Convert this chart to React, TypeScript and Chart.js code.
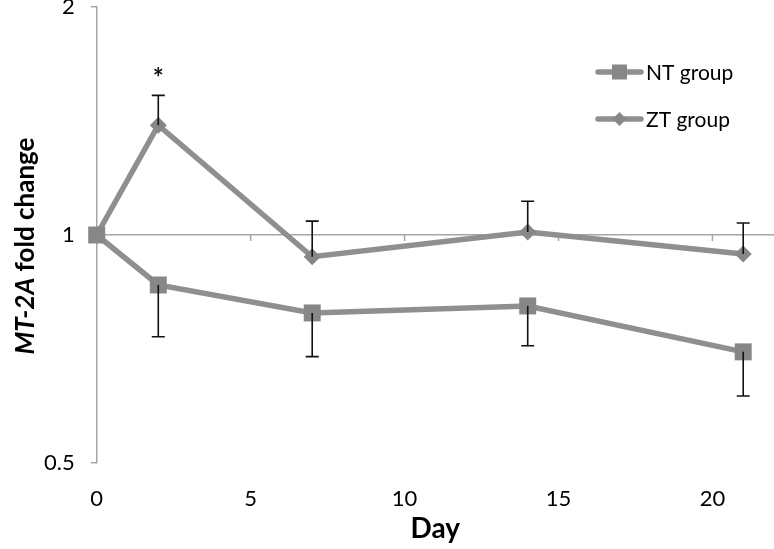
import React, { useEffect, useRef } from "react";
import { Chart, registerables } from "chart.js";

Chart.register(...registerables);

const days = [0, 2, 7, 14, 21];
const ntValues = [1.0, 0.859, 0.789, 0.806, 0.701];
const ztValues = [1.0, 1.396, 0.936, 1.009, 0.944];
const ntErrLow = [1.0, 0.734, 0.691, 0.714, 0.613];
const ztErrHigh = [1.0, 1.529, 1.043, 1.108, 1.037];
const significant = [false, true, false, false, false];
const xTicks = [0, 5, 10, 15, 20];
const yTicks = [0.5, 1, 2];
const seriesNames = ["NT group", "ZT group"];

const FONT = "Lato, 'Liberation Sans', sans-serif";
const LINE = "#8f8f8f";
const MARK = "#878787";

const overlay = {
  id: "overlay",
  afterDatasetsDraw(chart: any) {
    const ctx = chart.ctx;
    const xs = chart.scales.x;
    const ys = chart.scales.y;
    ctx.save();
    ctx.strokeStyle = "#111";
    ctx.lineWidth = 1.6;
    const cap = 6.5;
    days.forEach((d, i) => {
      const x = xs.getPixelForValue(d);
      if (ztErrHigh[i] !== ztValues[i]) {
        const y0 = ys.getPixelForValue(ztValues[i]);
        const y1 = ys.getPixelForValue(ztErrHigh[i]);
        ctx.beginPath();
        ctx.moveTo(x, y0);
        ctx.lineTo(x, y1);
        ctx.moveTo(x - cap, y1);
        ctx.lineTo(x + cap, y1);
        ctx.stroke();
        if (significant[i]) {
          ctx.fillStyle = "#111";
          ctx.font = `bold 26px ${FONT}`;
          ctx.textAlign = "center";
          ctx.textBaseline = "middle";
          ctx.fillText("*", x, y1 - 17);
        }
      }
      if (ntErrLow[i] !== ntValues[i]) {
        const y0 = ys.getPixelForValue(ntValues[i]);
        const y1 = ys.getPixelForValue(ntErrLow[i]);
        ctx.beginPath();
        ctx.moveTo(x, y0);
        ctx.lineTo(x, y1);
        ctx.moveTo(x - cap, y1);
        ctx.lineTo(x + cap, y1);
        ctx.stroke();
      }
    });
    ctx.restore();
  },
  beforeDatasetsDraw(chart: any) {
    const ctx = chart.ctx;
    const xs = chart.scales.x;
    const ys = chart.scales.y;
    const yBase = ys.getPixelForValue(1);
    ctx.save();
    ctx.strokeStyle = "#a6a6a6";
    ctx.lineWidth = 1.5;
    xTicks.forEach((t) => {
      if (t === 0) return;
      const x = xs.getPixelForValue(t);
      ctx.beginPath();
      ctx.moveTo(x, yBase);
      ctx.lineTo(x, yBase + 6);
      ctx.stroke();
    });
    ctx.restore();
  },
  afterDraw(chart: any) {
    const ctx = chart.ctx;
    ctx.save();
    const cx = 26;
    const cy = 246;
    ctx.translate(cx, cy);
    ctx.rotate(-Math.PI / 2);
    ctx.fillStyle = "#000";
    ctx.textBaseline = "middle";
    const p1 = "MT-2A";
    const p2 = " fold change";
    const f1 = `italic bold 26px ${FONT}`;
    const f2 = `bold 26px ${FONT}`;
    ctx.font = f1;
    const w1 = ctx.measureText(p1).width;
    ctx.font = f2;
    const w2 = ctx.measureText(p2).width;
    const start = -(w1 + w2) / 2;
    ctx.textAlign = "left";
    ctx.font = f1;
    ctx.fillText(p1, start, 0);
    ctx.font = f2;
    ctx.fillText(p2, start + w1, 0);
    ctx.restore();

    ctx.save();
    const items = [
      { name: seriesNames[0], style: "rect", r: 7.5, y: 72 },
      { name: seriesNames[1], style: "rectRot", r: 7, y: 119 },
    ];
    items.forEach((it) => {
      ctx.strokeStyle = LINE;
      ctx.lineWidth = 5.5;
      ctx.lineCap = "round";
      ctx.beginPath();
      ctx.moveTo(598, it.y);
      ctx.lineTo(641, it.y);
      ctx.stroke();
      ctx.fillStyle = MARK;
      ctx.beginPath();
      if (it.style === "rect") {
        ctx.rect(619.5 - it.r, it.y - it.r, it.r * 2, it.r * 2);
      } else {
        ctx.moveTo(619.5 - it.r, it.y);
        ctx.lineTo(619.5, it.y - it.r);
        ctx.lineTo(619.5 + it.r, it.y);
        ctx.lineTo(619.5, it.y + it.r);
        ctx.closePath();
      }
      ctx.fill();
      ctx.fillStyle = "#000";
      ctx.font = `21px ${FONT}`;
      ctx.textAlign = "left";
      ctx.textBaseline = "middle";
      ctx.fillText(it.name, 646, it.y + 1);
    });
    ctx.restore();
  },
};

export default function App() {
  const ref = useRef<HTMLCanvasElement>(null);
  useEffect(() => {
    if (!ref.current) return;
    const chart = new Chart(ref.current, {
      type: "line",
      data: {
        datasets: [
          {
            label: seriesNames[0],
            data: days.map((d, i) => ({ x: d, y: ntValues[i] })),
            borderColor: LINE,
            backgroundColor: MARK,
            borderWidth: 5.5,
            pointStyle: "rect",
            pointRadius: 12,
            pointBorderWidth: 0,
            pointBackgroundColor: MARK,
            tension: 0,
            clip: false,
          },
          {
            label: seriesNames[1],
            data: days.map((d, i) => ({ x: d, y: ztValues[i] })),
            borderColor: LINE,
            backgroundColor: MARK,
            borderWidth: 5.5,
            pointStyle: "rectRot",
            pointRadius: 8.5,
            pointBorderWidth: 0,
            pointBackgroundColor: MARK,
            tension: 0,
            clip: false,
          },
        ],
      },
      options: {
        animation: false,
        responsive: true,
        maintainAspectRatio: false,
        layout: { autoPadding: false, padding: { left: 28, right: 0, top: 0, bottom: 0 } },
        plugins: {
          legend: { display: false },
          tooltip: { enabled: false },
        },
        scales: {
          x: {
            type: "linear",
            min: 0,
            max: 22,
            border: { display: false },
            grid: { display: false },
            afterBuildTicks: (s: any) => {
              s.ticks = xTicks.map((v) => ({ value: v }));
            },
            ticks: {
              padding: 15,
              color: "#000",
              font: { family: FONT, size: 22 },
              maxRotation: 0,
            },
            title: {
              display: true,
              text: "Day",
              color: "#000",
              font: { family: FONT, size: 28, weight: "bold" },
              padding: { top: -15, bottom: 3 },
            },
          },
          y: {
            type: "logarithmic",
            min: 0.5,
            max: 2,
            border: { display: true, color: "#a6a6a6", width: 1.5 },
            grid: {
              drawOnChartArea: true,
              color: (c: any) => (c.tick && c.tick.value === 1 ? "#a6a6a6" : "rgba(0,0,0,0)"),
              lineWidth: 1.5,
              tickColor: "#a6a6a6",
              tickLength: 6,
            },
            afterBuildTicks: (s: any) => {
              s.ticks = yTicks.map((v) => ({ value: v }));
            },
            afterFit: (s: any) => {
              s.paddingTop = 7;
            },
            ticks: {
              padding: 16,
              color: "#000",
              font: { family: FONT, size: 22 },
              callback: (v: any) => String(v),
            },
          },
        },
      },
      plugins: [overlay],
    });
    return () => chart.destroy();
  }, []);
  return (
    <div style={{ position: "fixed", left: 0, top: 0, width: 774, height: 549, background: "#fff" }}>
      <canvas ref={ref} />
    </div>
  );
}
